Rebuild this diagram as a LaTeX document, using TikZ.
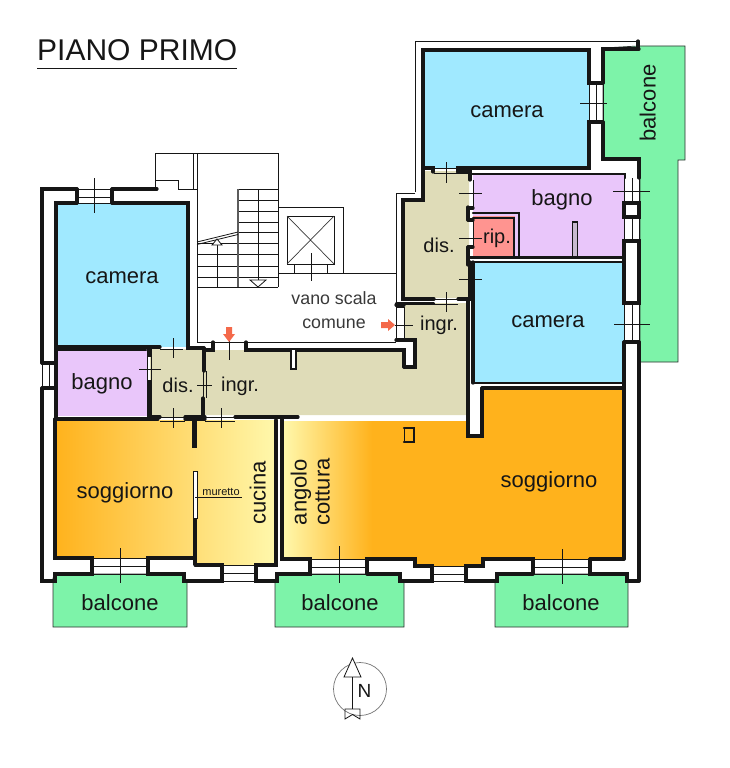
\documentclass[tikz,border=0pt]{standalone}
\usepackage{fontspec}
\setmainfont{Liberation Sans}
\definecolor{cam}{HTML}{A0E9FF}
\definecolor{bag}{HTML}{E9C6FA}
\definecolor{rip}{HTML}{FF9490}
\definecolor{dis}{HTML}{DFDCB8}
\definecolor{bal}{HTML}{7DF3A9}
\definecolor{org}{HTML}{FFB21C}
\definecolor{pale}{HTML}{FFF8AC}
\definecolor{arr}{HTML}{F4694A}
\definecolor{ink}{HTML}{161616}
\tikzset{
 wall/.style={draw=ink,line width=3.2pt,line join=miter,line cap=round},
 midwall/.style={draw=ink,line width=2.2pt,line cap=round},
 thin/.style={draw=ink,line width=0.8pt},
 hair/.style={draw=ink!85,line width=0.7pt},
 tick/.style={draw=ink,line width=0.7pt},
 balc/.style={fill=bal,draw=ink!90,line width=0.7pt},
 lab/.style={anchor=mid,inner sep=0pt,text=ink,font=\fontsize{22}{26}\selectfont},
 lab2/.style={anchor=mid,inner sep=0pt,text=ink,font=\fontsize{20}{24}\selectfont},
 lab3/.style={anchor=mid,inner sep=0pt,text=ink!85,font=\fontsize{17.8}{22}\selectfont},
 arrowmark/.style={fill=arr,draw=none}
}
\begin{document}
\begin{tikzpicture}[x=1pt,y=-1pt]
\useasboundingbox (0,0) rectangle (730,768);
% fills
\path[balc] (53,578)--(56,574)--(183,574)--(184,581)--(187,581)--(187,627)--(53,627)--cycle;
\path[balc] (275,581)--(278,574)--(400,574)--(400,581)--(404,581)--(404,627)--(275,627)--cycle;
\path[balc] (495,581)--(497,574)--(627,574)--(628,581)--(628,627)--(495,627)--cycle;
\path[balc] (603,48)--(638,46)--(685,46)--(685,160)--(678,160)--(678,362)--(640,362)--(640,160)--(603,160)--cycle;
\fill[cam] (423,50) rectangle (589,168);
\fill[cam] (56,203) rectangle (188,347);
\fill[cam] (473,262) rectangle (624,383);
\fill[bag] (473,175) rectangle (624,258);
\fill[bag] (56,349) rectangle (148,416);
\fill[rip] (473,216) rectangle (515,258);
\fill[dis] (424,171)--(469,171)--(469,298)--(405,298)--(405,201)--(424,201)--cycle;
\fill[dis] (150,349) rectangle (203,417);
\fill[dis] (204,350)--(404,350)--(404,367)--(415,367)--(415,340)--(405,340)--(405,303)--(469,303)--(469,415)--(204,415)--cycle;
\shade[left color=org,right color=pale] (55,420)--(276,420)--(276,565)--(195,565)--(195,558)--(55,558)--cycle;
\fill[org] (283,421)--(468,421)--(468,437)--(482,437)--(482,388)--(624,388)--(624,559)--(483,559)--(483,566)--(415,566)--(415,559)--(283,559)--cycle;
\shade[left color=pale,right color=org] (283,421) rectangle (372,559);
% stairs and thin outlines
\draw[thin] (155,189)--(155,153)--(278,153);
\draw[thin] (155,180)--(178,180)--(178,189)--(197,189);
\draw[thin] (193,153)--(193,189);
\draw[thin] (197,153)--(197,342)--(213,342);
\draw[thin] (246,342)--(396,342);
\draw[thin] (278,153)--(278,287);
\draw[thin] (278,207)--(343,207)--(343,273);
\draw[thin] (278,273)--(396,273);
\draw[thin] (287,216) rectangle (334,264);
\draw[hair] (287,216)--(334,264) (334,216)--(287,264);
\draw[thin] (294.5,264)--(294.5,273) (327,264)--(327,273);
\foreach \yy in {189,200,211,222,232,243,254,266,277,287} \draw[thin] (238,\yy)--(278,\yy);
\foreach \yy in {243,254,266,277,287} \draw[thin] (197,\yy)--(238,\yy);
\draw[draw=ink!70,line width=2.4pt] (238,189)--(238,287);
\draw[thin] (197,242)--(238,232) (197,244.5)--(238,234.5);
\draw[thin] (258,189)--(258,280);
\draw[thin,fill=white] (250,280)--(266,280)--(258,287)--cycle;
\draw[thin] (217,245)--(217,287);
\draw[thin,fill=white] (217,239)--(222,245)--(212,245)--cycle;
\draw[thin] (415,192)--(415,41)--(638,41);
\draw[thin] (415,193)--(396,193)--(396,303);
% right outer block
\path[wall] (638,41)--(638,48);
\path[wall] (603,83)--(603,49)--(639,49);
\path[wall] (603,122)--(603,159)--(639,159)--(639,178);
\path[wall] (433,172)--(433,168)--(423,168)--(423,50)--(589,50)--(589,83)--(603,83);
\path[wall] (603,122)--(589,122)--(589,168)--(458,168)--(458,172);
\draw[thin] (589,83)--(589,122) (596,83)--(596,122) (603,83)--(603,122);
\draw[thin] (434,168)--(458,168) (434,173)--(458,173);
% dis upper
\path[wall] (423,168)--(423,200)--(403,200)--(403,299)--(434,299);
\path[wall] (458,172)--(470,172)--(470,180);
\path[midwall] (470,174)--(625,174)--(625,178);
\path[wall] (468,207)--(468,220);
\path[wall] (468,208)--(473,208);
\path[wall] (468,220)--(473,220);
\path[wall] (468,247)--(468,265);
\path[wall] (468,247)--(473,247);
\draw[thin] (473,180)--(473,207) (473,220)--(473,247);
\path[midwall] (473,213)--(519,213)--(519,257);
\path[midwall] (473,218)--(514,218)--(514,257);
\path[midwall] (470,257.5)--(624,257.5);
\path[midwall] (470,262)--(624,262);
\draw[ink,line width=1.4pt,fill=bag!70!black!60!white] (572.5,222) rectangle (577.5,257);
% windows right
\draw[thin] (624,178)--(624,203) (632,178)--(632,203) (639,178)--(639,203);
\path[wall,fill=white] (624,203) rectangle (639,217);
\draw[thin] (624,217)--(624,241) (632,217)--(632,241) (639,217)--(639,241);
\path[wall,fill=white] (624,241) rectangle (639,303);
\draw[thin] (624,303)--(624,342) (632,303)--(632,342) (639,303)--(639,342);
\path[wall] (624,342)--(639,342);
\path[wall] (624,342)--(624,559) (639,342)--(639,581);
% big soggiorno and mid camera walls
\path[wall] (473,262)--(473,383);
\path[midwall] (473,383)--(624,383);
\path[wall] (482,388)--(624,388);
\path[wall] (482,388)--(482,436)--(468,436)--(468,299);
\path[wall] (458,299)--(470,299)--(470,262);
\draw[thin] (434,299)--(458,299) (434,304)--(458,304);
\path[midwall] (396,303.5)--(434,303.5);
% door arrow
\draw[thin] (396,307) rectangle (404,338);
\path[wall] (396,305)--(404,305);
\path[wall] (396,340)--(415,340)--(415,367)--(404,367);
\path[wall] (404,367)--(404,350)--(246,350)--(246,342);
\path[wall] (213,342)--(213,350)--(204,350);
\draw[thin] (213,342)--(246,342);
\path[midwall,fill=white] (291,350)--(291,369)--(296,369)--(296,350);
% left block
\path[wall] (42,363)--(42,189)--(77,189);
\path[wall] (112,189)--(157,189);
\path[wall] (77,189)--(77,203);
\path[wall] (112,189)--(112,203);
\path[wall] (77,203)--(56,203)--(56,347)--(160,347);
\path[wall] (112,203)--(188,203)--(188,348)--(204,348);
\draw[thin] (77,189)--(112,189) (77,197)--(112,197) (77,203)--(112,203);
\path[midwall] (56,350)--(146,350);
\draw[thin] (160,349)--(183,349);
\path[wall] (56,347)--(56,419);
\path[wall] (42,363)--(56,363);
\path[wall] (42,388)--(56,388);
\draw[thin] (42,363)--(42,388) (49,363)--(49,388);
\path[wall] (42,388)--(42,581)--(55,581)--(55,574)--(92,574)--(92,558)--(55,558)--(55,419);
% bagno/dis left
\path[draw=ink,line width=4.4pt] (149.5,347)--(149.5,357);
\draw[thin] (147,357)--(147,380) (151,357)--(151,380);
\path[draw=ink,line width=4.4pt] (149.5,380)--(149.5,417);
\path[wall] (55,419)--(158,419);
\path[wall] (151,417)--(160,417);
\draw[thin] (160,417)--(185,417) (160,421)--(185,421);
\path[wall] (185,417)--(205,417);
\path[wall] (204,348)--(204,371);
\path[wall] (203,398)--(203,417);
\draw[thin] (203,371)--(203,398) (206,371)--(206,398);
\draw[thin] (205,417)--(235,417) (205,421)--(235,421);
\path[wall] (235,417)--(298,417);
% soggiorno/cucina partition
\path[wall] (185,419)--(205,419);
\path[draw=ink,line width=5.5pt] (194.5,419)--(194.5,448);
\draw[thin,fill=white] (193,471) rectangle (197,518);
\path[draw=ink,line width=4pt] (195,519)--(195,565);
\path[wall] (195,558)--(148,558)--(148,574)--(184,574)--(184,581)--(222,581)--(222,565)--(195,565);
\draw[thin] (92,558)--(148,558) (92,566)--(148,566) (92,574)--(148,574);
\draw[thin] (222,565)--(256,565) (222,573)--(256,573) (222,581)--(256,581);
\path[wall] (276,420)--(276,565)--(256,565)--(256,581)--(277,581)--(277,574)--(310,574)--(310,559)--(282,559)--(282,419);
% bottom right walls
\draw[thin] (310,559)--(367,559) (310,567)--(367,567) (310,574)--(367,574);
\path[wall] (367,574)--(367,559)--(415,559)--(415,566)--(432,566)--(432,581)--(400,581)--(400,574)--(367,574);
\draw[thin] (432,566)--(466,566) (432,574)--(466,574) (432,581)--(466,581);
\path[wall] (533,574)--(497,574)--(497,581)--(466,581)--(466,566)--(483,566)--(483,559)--(533,559)--(533,574);
\draw[thin] (533,559)--(590,559) (533,567)--(590,567) (533,574)--(590,574);
\path[wall] (590,559)--(590,574)--(627,574)--(627,581)--(639,581);
\path[wall] (590,559)--(624,559);
% chimney
\draw[ink,line width=1pt,fill=org] (404,428) rectangle (414,442);
\path[midwall] (404,428)--(414,428)--(414,442)--(404,442);
% ticks
\draw[tick] (94,178)--(94,213);
\draw[tick] (173,338)--(173,358);
\draw[tick] (139,369)--(161,369);
\draw[tick] (197,385)--(212,385);
\draw[tick] (173,408)--(173,428);
\draw[tick] (221,408)--(221,428);
\draw[tick] (229,341)--(229,360);
\draw[tick] (311,253)--(311,281);
\draw[tick] (395,325)--(413,325);
\draw[tick] (446,162)--(446,183);
\draw[tick] (459,193)--(482,193);
\draw[tick] (459,238)--(482,238);
\draw[tick] (459,279)--(482,279);
\draw[tick] (446,292)--(446,312);
\draw[tick] (580,103)--(607,103);
\draw[tick] (613,191)--(650,191);
\draw[tick] (614,324)--(650,324);
\draw[tick] (120,548)--(120,583);
\draw[tick] (339,546)--(339,583);
\draw[tick] (562,549)--(562,584);
\draw[thin] (195,497)--(242,497);
% orange arrows
\path[arrowmark] (226,327)--(232,327)--(232,334)--(235,334)--(229,342)--(223,334)--(226,334)--cycle;
\path[arrowmark] (381,322)--(388,322)--(388,319)--(395,325)--(388,331)--(388,328)--(381,328)--cycle;
% labels
\node[anchor=base west,inner sep=0pt,text=ink,font=\fontsize{30}{34}\selectfont] (title) at (37,60) {PIANO PRIMO};
\draw[ink,line width=1pt] (title.south west |- 0,69)--(237,69);
\node[lab] (c1) at (507,115) {camera};
\node[lab] (c2) at (122,281) {camera};
\node[lab] (c3) at (548,325) {camera};
\node[lab] (b1) at (562,203) {bagno};
\node[lab] (b2) at (102,387) {bagno};
\node[lab2] (r1) at (497,241) {rip.};
\node[lab2] (d1) at (439,250) {dis.};
\node[lab2] (d2) at (178,390) {dis.};
\node[lab2] (i1) at (439,328) {ingr.};
\node[lab2] (i2) at (240,389) {ingr.};
\node[lab3] (v1) at (334,302) {vano scala};
\node[lab3] (v2) at (334,326) {comune};
\node[lab] (s1) at (125,496) {soggiorno};
\node[lab] (s2) at (549,485) {soggiorno};
\node[lab,rotate=90] (k1) at (263,493) {cucina};
\node[lab,rotate=90] (a1) at (304,492) {angolo};
\node[lab,rotate=90] (a2) at (327,492) {cottura};
\node[anchor=mid,inner sep=0pt,text=ink,font=\fontsize{11}{13}\selectfont] (m1) at (221,493) {muretto};
\node[lab] (bb1) at (120,608) {balcone};
\node[lab] (bb2) at (340,608) {balcone};
\node[lab] (bb3) at (561,608) {balcone};
\node[lab,rotate=90] (bb4) at (653,103) {balcone};
% compass
\draw[draw=ink!60,line width=0.7pt] (360,689) circle (26.5);
\draw[thin,fill=white] (352.5,658)--(361,677)--(344,677)--cycle;
\draw[thin] (352.5,677)--(352.5,709);
\draw[thin] (345,709)--(360,709)--(360,719)--(352.5,714.5)--(345,719)--cycle;
\node[anchor=mid,inner sep=0pt,text=ink,font=\fontsize{19}{22}\selectfont] (nn) at (364.5,695) {N};
\end{tikzpicture}
\end{document}
